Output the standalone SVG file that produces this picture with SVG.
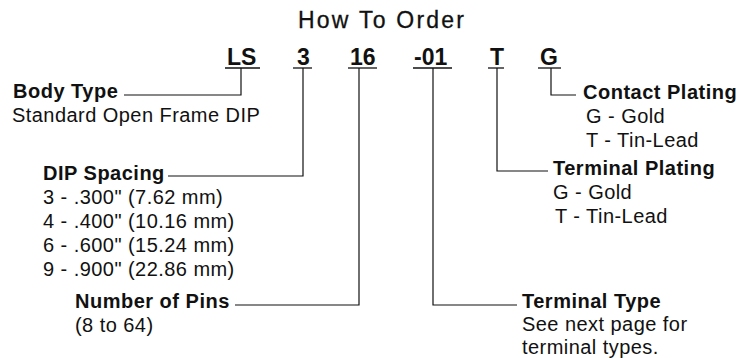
<svg xmlns="http://www.w3.org/2000/svg" width="751" height="358" viewBox="0 0 751 358">
<style>
text{font-family:"Liberation Sans",Arial,Helvetica,sans-serif;fill:#111}
.title{font-size:23px;stroke:#111;stroke-width:0.3}
.code{font-size:23px;font-weight:bold}
.lbl{font-size:20px;font-weight:bold;letter-spacing:0.5px}
.txt{font-size:20px;letter-spacing:0.45px}
.ul{stroke:#111;stroke-width:1.3}
.conn{fill:none;stroke:#111;stroke-width:1.2}
</style>
<rect width="751" height="358" fill="#fff"/>
<g id="title"><text class="title" x="298" y="28" textLength="166" lengthAdjust="spacing">How To Order</text></g>
<g id="code">
<g id="code-ls"><text class="code" x="227" y="65">LS</text><line class="ul" x1="225" y1="68" x2="260" y2="68"/></g>
<g id="code-3"><text class="code" x="297" y="65">3</text><line class="ul" x1="293" y1="68" x2="312" y2="68"/></g>
<g id="code-16"><text class="code" x="350" y="65">16</text><line class="ul" x1="348" y1="68" x2="377" y2="68"/></g>
<g id="code-01"><text class="code" x="414" y="65">-01</text><line class="ul" x1="413" y1="68" x2="452" y2="68"/></g>
<g id="code-t"><text class="code" x="490" y="65">T</text><line class="ul" x1="488" y1="68" x2="504" y2="68"/></g>
<g id="code-g"><text class="code" x="540" y="65">G</text><line class="ul" x1="538" y1="68" x2="561" y2="68"/></g>
</g>
<g id="connectors">
<polyline class="conn" points="241,68 241,95 124,95"/>
<polyline class="conn" points="303,68 303,176 168,176"/>
<polyline class="conn" points="359,68 359,305 235,305"/>
<polyline class="conn" points="433,68 433,305 517,305"/>
<polyline class="conn" points="497,68 497,171 548,171"/>
<polyline class="conn" points="551,68 551,95 576,95"/>
</g>
<g id="body-type">
<text class="lbl" x="13" y="98">Body Type</text>
<text class="txt" x="12" y="122">Standard Open Frame DIP</text>
</g>
<g id="dip-spacing">
<text class="lbl" x="43" y="180">DIP Spacing</text>
<text class="txt" x="43" y="204">3 - .300" (7.62 mm)</text>
<text class="txt" x="43" y="228">4 - .400" (10.16 mm)</text>
<text class="txt" x="43" y="252">6 - .600" (15.24 mm)</text>
<text class="txt" x="43" y="276">9 - .900" (22.86 mm)</text>
</g>
<g id="number-of-pins">
<text class="lbl" x="75" y="308">Number of Pins</text>
<text class="txt" x="75" y="332">(8 to 64)</text>
</g>
<g id="terminal-type">
<text class="lbl" x="522" y="308">Terminal Type</text>
<text class="txt" x="522" y="331">See next page for</text>
<text class="txt" x="522" y="354">terminal types.</text>
</g>
<g id="terminal-plating">
<text class="lbl" x="553" y="175">Terminal Plating</text>
<text class="txt" x="553" y="199">G - Gold</text>
<text class="txt" x="555" y="223">T - Tin-Lead</text>
</g>
<g id="contact-plating">
<text class="lbl" x="583" y="99">Contact Plating</text>
<text class="txt" x="586" y="123">G - Gold</text>
<text class="txt" x="586" y="147">T - Tin-Lead</text>
</g>
</svg>
